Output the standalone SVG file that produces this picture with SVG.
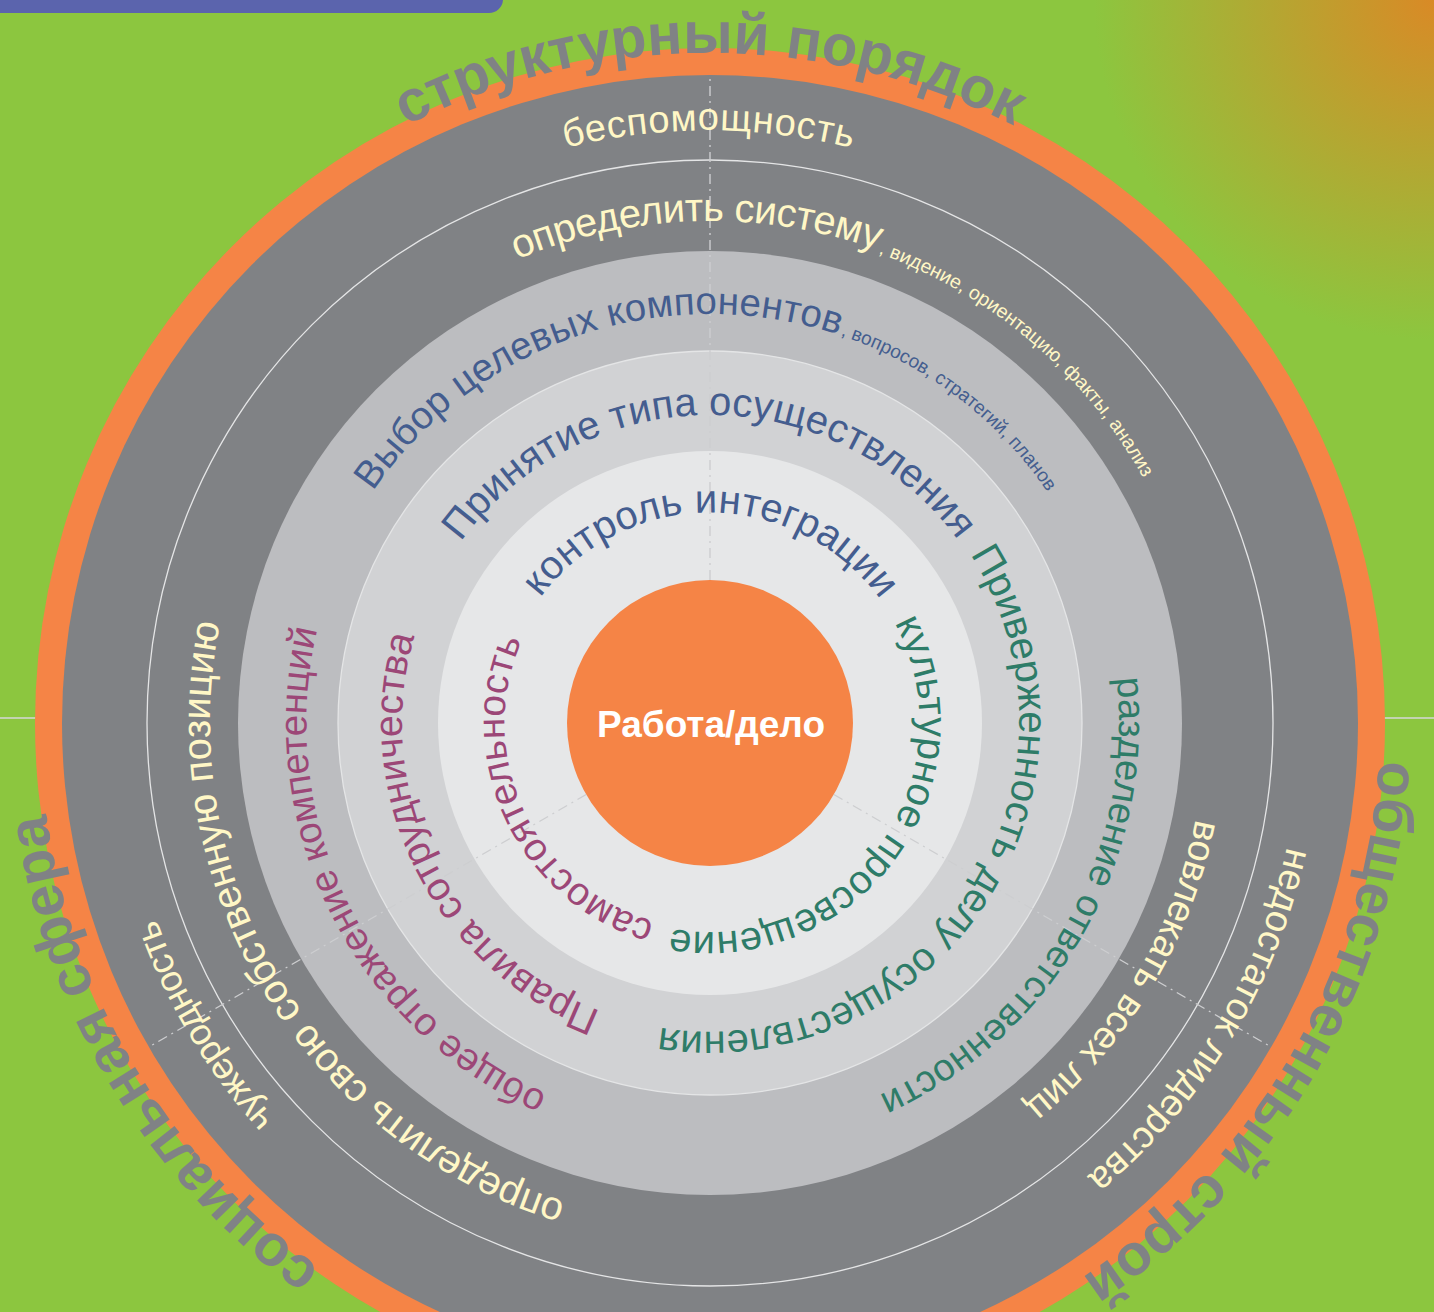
<svg xmlns="http://www.w3.org/2000/svg" xmlns:xlink="http://www.w3.org/1999/xlink" width="1434" height="1312" viewBox="0 0 1434 1312">
  <style>
    text { font-family: "Liberation Sans", Arial, sans-serif; }
    .sector { font-weight: bold; font-size: 58px; fill: #808285; }
    .cream { fill: #fff7c6; }
    .blue { fill: #445d8f; }
    .green { fill: #2e7c68; }
    .plum { fill: #9c4777; }
    .hub { font-weight: bold; font-size: 37px; fill: #ffffff; }
    .spoke { stroke: #cdced0; stroke-width: 1.4; stroke-dasharray: 10 5 2 5; fill: none; }
    .rule { stroke: #e4e5e6; stroke-width: 1.3; fill: none; }
  </style>
  <defs>
    <radialGradient id="corner" cx="1434" cy="0" r="340" gradientUnits="userSpaceOnUse">
      <stop offset="0" stop-color="#d98a26"/>
      <stop offset="1" stop-color="#8cc63f"/>
    </radialGradient>
    <!-- clockwise circles around (710,723); each starts where its label begins -->
    <path id="p-struct" d="M405.83 126.02 A670 670 0 0 1 1014.17 1319.98 A670 670 0 0 1 405.83 126.02"/>
    <path id="p-social" d="M320.93 1268.46 A670 670 0 0 1 1099.07 177.54 A670 670 0 0 1 320.93 1268.46"/>
    <path id="p-public" d="M1378.95 760.40 A670 670 0 0 1 41.05 685.60 A670 670 0 0 1 1378.95 760.40"/>
    <path id="p-help" d="M565.53 147.87 A593 593 0 0 1 854.47 1298.13 A593 593 0 0 1 565.53 147.87"/>
    <path id="p-sys" d="M517.08 259.55 A502 502 0 0 1 902.92 1186.45 A502 502 0 0 1 517.08 259.55"/>
    <path id="p-sys2" d="M878.21 253.21 A499 499 0 0 1 541.79 1192.79 A499 499 0 0 1 878.21 253.21"/>
    <path id="p-goal" d="M372.93 491.34 A409 409 0 0 1 1047.07 954.66 A409 409 0 0 1 372.93 491.34"/>
    <path id="p-goal2" d="M840.45 335.36 A409 409 0 0 1 579.55 1110.64 A409 409 0 0 1 840.45 335.36"/>
    <path id="p-type" d="M460.82 541.96 A308 308 0 0 1 959.18 904.04 A308 308 0 0 1 460.82 541.96"/>
    <path id="p-ctrl" d="M540.39 597.49 A211 211 0 0 1 879.61 848.51 A211 211 0 0 1 540.39 597.49"/>
    <path id="p-self" d="M654.60 921.41 A206 206 0 0 1 765.40 524.59 A206 206 0 0 1 654.60 921.41"/>
    <path id="p-rules" d="M600.63 1010.93 A308 308 0 0 1 819.37 435.07 A308 308 0 0 1 600.63 1010.93"/>
    <path id="p-comp" d="M547.21 1093.84 A405 405 0 0 1 872.79 352.16 A405 405 0 0 1 547.21 1093.84"/>
    <path id="p-pos" d="M565.48 1201.66 A500 500 0 0 1 854.52 244.34 A500 500 0 0 1 565.48 1201.66"/>
    <path id="p-alien" d="M275.10 1118.73 A588 588 0 0 1 1144.90 327.27 A588 588 0 0 1 275.10 1118.73"/>
    <path id="p-cult" d="M894.55 622.80 A210 210 0 0 1 525.45 823.20 A210 210 0 0 1 894.55 622.80"/>
    <path id="p-commit" d="M970.28 554.62 A310 310 0 0 1 449.72 891.38 A310 310 0 0 1 970.28 554.62"/>
    <path id="p-share" d="M1116.53 678.12 A409 409 0 0 1 303.47 767.88 A409 409 0 0 1 1116.53 678.12"/>
    <path id="p-involve" d="M1195.58 819.14 A495 495 0 0 1 224.42 626.86 A495 495 0 0 1 1195.58 819.14"/>
    <path id="p-lead" d="M1286.89 846.68 A590 590 0 0 1 133.11 599.32 A590 590 0 0 1 1286.89 846.68"/>
  </defs>

  <!-- backdrop -->
  <rect width="1434" height="1312" fill="#8cc63f"/>
  <rect width="1434" height="1312" fill="url(#corner)"/>
  <path d="M0 0 H503 A14 14 0 0 1 489 13 H0 Z" fill="#5b64ad"/>
  <line x1="0" y1="718" x2="1434" y2="718" stroke="#d6d7d8" stroke-width="1.4"/>

  <!-- rings -->
  <g id="rings">
    <circle cx="710" cy="723" r="675" fill="#f58446"/>
    <circle cx="710" cy="723" r="648" fill="#808285"/>
    <circle class="rule" cx="710" cy="723" r="563"/>
    <circle cx="710" cy="723" r="472" fill="#bcbdc0"/>
    <circle cx="710" cy="723" r="372" fill="#d1d2d4"/>
    <circle class="rule" cx="710" cy="723" r="372" stroke="#eeeff0"/>
    <circle cx="710" cy="723" r="272" fill="#e6e7e8"/>
  </g>

  <!-- sector dividers -->
  <g id="connectors">
    <line class="spoke" x1="710" y1="580" x2="710" y2="75"/>
    <line class="spoke" x1="586.16" y1="794.5" x2="148.81" y2="1047"/>
    <line class="spoke" x1="833.84" y1="794.5" x2="1271.19" y2="1047"/>
  </g>

  <g id="hub">
    <circle cx="710" cy="723" r="143" fill="#f58446"/>
    <text class="hub" x="711" y="737" text-anchor="middle">Работа/дело</text>
  </g>

  <!-- sector titles -->
  <g id="sector-structure">
    <text class="sector"><textPath href="#p-struct" xlink:href="#p-struct" textLength="631" lengthAdjust="spacing">структурный порядок</textPath></text>
  </g>
  <g id="sector-social">
    <text class="sector"><textPath href="#p-social" xlink:href="#p-social" textLength="546" lengthAdjust="spacing">социальная сфера</textPath></text>
  </g>
  <g id="sector-public">
    <text class="sector"><textPath href="#p-public" xlink:href="#p-public" textLength="619" lengthAdjust="spacing">общественный строй</textPath></text>
  </g>

  <!-- structure sector -->
  <g id="helplessness">
    <text class="cream" font-size="38"><textPath href="#p-help" xlink:href="#p-help" textLength="289" lengthAdjust="spacing">беспомощность</textPath></text>
  </g>
  <g id="define-system">
    <text class="cream" font-size="40"><textPath href="#p-sys" xlink:href="#p-sys" textLength="369" lengthAdjust="spacing">определить систему</textPath></text>
    <text class="cream" font-size="19.5"><textPath href="#p-sys2" xlink:href="#p-sys2" textLength="355" lengthAdjust="spacing">, видение, ориентацию, факты, анализ</textPath></text>
  </g>
  <g id="target-components">
    <text class="blue" font-size="38.5"><textPath href="#p-goal" xlink:href="#p-goal" textLength="527" lengthAdjust="spacing">Выбор целевых компонентов</textPath></text>
    <text class="blue" font-size="19"><textPath href="#p-goal2" xlink:href="#p-goal2" textLength="264" lengthAdjust="spacing">, вопросов, стратегий, планов</textPath></text>
  </g>
  <g id="delivery-type">
    <text class="blue" font-size="40"><textPath href="#p-type" xlink:href="#p-type" textLength="578" lengthAdjust="spacing">Принятие типа осуществления</textPath></text>
  </g>
  <g id="integration-control">
    <text class="blue" font-size="40"><textPath href="#p-ctrl" xlink:href="#p-ctrl" textLength="395" lengthAdjust="spacing">контроль интеграции</textPath></text>
  </g>

  <!-- social sector -->
  <g id="autonomy">
    <text class="plum" font-size="39"><textPath href="#p-self" xlink:href="#p-self" textLength="352" lengthAdjust="spacing">самостоятельность</textPath></text>
  </g>
  <g id="cooperation-rules">
    <text class="plum" font-size="39.5"><textPath href="#p-rules" xlink:href="#p-rules" textLength="460" lengthAdjust="spacing">Правила сотрудничества</textPath></text>
  </g>
  <g id="shared-competence">
    <text class="plum" font-size="38.5"><textPath href="#p-comp" xlink:href="#p-comp" textLength="562" lengthAdjust="spacing">общее отражение компетенций</textPath></text>
  </g>
  <g id="own-position">
    <text class="cream" font-size="40"><textPath href="#p-pos" xlink:href="#p-pos" textLength="739" lengthAdjust="spacing">определить свою собственную позицию</textPath></text>
  </g>
  <g id="alienness">
    <text class="cream" font-size="37"><textPath href="#p-alien" xlink:href="#p-alien" textLength="234" lengthAdjust="spacing">чужеродность</textPath></text>
  </g>

  <!-- public sector -->
  <g id="cultural-education">
    <text class="green" font-size="40"><textPath href="#p-cult" xlink:href="#p-cult" textLength="472" lengthAdjust="spacing">культурное просвещение</textPath></text>
  </g>
  <g id="commitment">
    <text class="green" font-size="40"><textPath href="#p-commit" xlink:href="#p-commit" textLength="713" lengthAdjust="spacing">Приверженность делу осуществления</textPath></text>
  </g>
  <g id="shared-responsibility">
    <text class="green" font-size="38"><textPath href="#p-share" xlink:href="#p-share" textLength="513" lengthAdjust="spacing">разделение ответственности</textPath></text>
  </g>
  <g id="involve-everyone">
    <text class="cream" font-size="38"><textPath href="#p-involve" xlink:href="#p-involve" textLength="340" lengthAdjust="spacing">вовлекать всех лиц</textPath></text>
  </g>
  <g id="lack-of-leadership">
    <text class="cream" font-size="38"><textPath href="#p-lead" xlink:href="#p-lead" textLength="393" lengthAdjust="spacing">недостаток лидерства</textPath></text>
  </g>
</svg>
